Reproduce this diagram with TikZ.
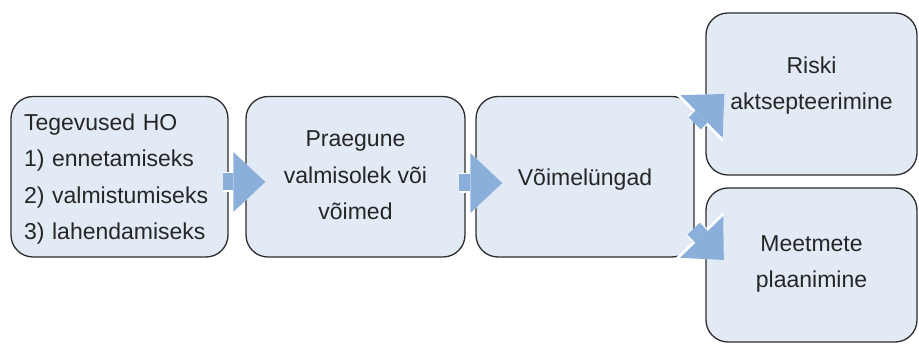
\documentclass[tikz,border=0pt]{standalone}
\usepackage{fontspec}
\setmainfont{Liberation Sans}
\usetikzlibrary{arrows.meta,calc}
\definecolor{boxfill}{RGB}{226,234,245}
\definecolor{boxline}{RGB}{45,45,45}
\definecolor{arrowblue}{RGB}{139,175,219}
\definecolor{txtcol}{RGB}{38,38,38}
\begin{document}
\begin{tikzpicture}[x=1pt,y=-1pt,
  box/.style={draw=boxline, line width=1.3pt, fill=boxfill, rounded corners=22pt,
    inner sep=0pt, text=txtcol, font=\fontsize{23}{36.5}\selectfont, align=center},
  blockarrow/.style={draw=arrowblue, line width=17pt,
    -{Triangle[length=32pt,width=60pt,line width=0pt]},
    preaction={draw=white, line width=20pt, -{Triangle[length=35pt,width=66pt,line width=0pt]}}}]
\useasboundingbox (0,0) rectangle (919,344);
\node[box, align=left, inner xsep=13pt, text width=191pt, minimum width=217pt, minimum height=160.5pt,
  text height=17pt, text depth=110pt] (b1) at (119.5,176.75)
  {Tegevused HO\\1) ennetamiseks\\2) valmistumiseks\\3) lahendamiseks};
\node[box, minimum width=219pt, minimum height=160.5pt, text height=89pt, text depth=2.5pt]
  (b2) at (355.5,176.75) {Praegune\\valmisolek või\\võimed};
\node[box, minimum width=218pt, minimum height=160.5pt, text height=18.5pt, text depth=0pt]
  (b3) at (585,176.75) {Võimelüngad};
\node[box, minimum width=211pt, minimum height=162pt, text height=37pt, text depth=5pt]
  (b4) at (811.5,94) {Riski\\aktsepteerimine};
\node[box, minimum width=211pt, minimum height=154pt, text height=51pt, text depth=5pt]
  (b5) at (811.5,265) {Meetmete\\plaanimine};
\draw[blockarrow] ($(b1.east)+(-6,5.25)$) -- ($(b2.west)+(20,5.25)$);
\draw[blockarrow] ($(b2.east)+(-7,6.25)$) -- ($(b3.west)+(27,6.25)$);
\draw[blockarrow] ($(b3.north east)+(0,27.5)$) -- ($(b4.west)+(19,0)$);
\draw[blockarrow] ($(b3.south east)+(-1,-29)$) -- ($(b5.west)+(18.5,-5)$);
\end{tikzpicture}
\end{document}
